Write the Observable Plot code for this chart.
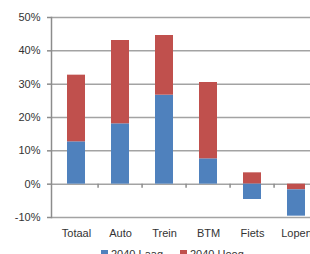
<!DOCTYPE html>
<html><head><meta charset="utf-8">
<script src="https://cdn.jsdelivr.net/npm/d3@7"></script>
<script src="https://cdn.jsdelivr.net/npm/@observablehq/plot@0.6"></script>
<style>
html,body{margin:0;padding:0;background:#fff;overflow:hidden;width:310px;height:254px}
#wrap{position:relative;width:310px;height:254px;overflow:hidden;font-family:"Liberation Sans",Arial,sans-serif;}
#wrap svg{position:absolute;left:0;top:0;max-width:none !important}
.leg{position:absolute;top:249px;font-size:11px;line-height:11px;color:#333;white-space:nowrap}
.sw{display:inline-block;width:7px;height:7px;margin-right:3px;vertical-align:top;margin-top:1px}
</style></head>
<body><div id="wrap"></div>
<script>
const categories = ["Totaal", "Auto", "Trein", "BTM", "Fiets", "Lopen"];
// segment sizes (percent) as stacked in the picture
const laag = [12.7, 18.1, 26.7, 7.6, -4.6, -7.9];
const hoog = [20.0, 25.0, 17.9, 22.9, 3.4, -1.7];
const seriesNames = ["2040 Laag", "2040 Hoog"];
const seriesColors = ["#4F81BD", "#C0504D"];
const yTicks = [-10, 0, 10, 20, 30, 40, 50];

const rows = [];
categories.forEach((c, i) => {
  let pos = 0, neg = 0;
  const segs = [[seriesNames[0], laag[i]], [seriesNames[1], hoog[i]]];
  for (const [s, v] of segs) if (v >= 0) { rows.push({cat: c, series: s, y1: pos, y2: pos + v}); pos += v; }
  for (const [s, v] of segs.slice().reverse()) if (v < 0) { rows.push({cat: c, series: s, y1: neg, y2: neg + v}); neg += v; }
});

const W = 320, H = 246, mL = 51, mR = 0, mT = 17, mB = 29;
const step = (W - mL - mR) / categories.length;
const yDomain = [-10, 50];
const tickLen = 4 * (yDomain[1] - yDomain[0]) / (H - mT - mB); // 4px in data units

const chart = Plot.plot({
  width: W, height: H,
  marginLeft: mL, marginRight: mR, marginTop: mT, marginBottom: mB,
  style: {fontFamily: '"Liberation Sans", Arial, sans-serif', fontSize: "11px", color: "#333", background: "#fff", maxWidth: "none"},
  x: {domain: categories, paddingInner: 0.6, paddingOuter: 0.3, axis: null, label: null},
  y: {domain: yDomain, axis: null, label: null},
  color: {domain: seriesNames, range: seriesColors},
  marks: [
    Plot.ruleY(yTicks, {stroke: "#a3a3a3", strokeWidth: 1.5}),
    Plot.barY(rows, {x: "cat", y1: "y1", y2: "y2", fill: "series"}),
    Plot.ruleX(categories.slice(1), {x: d => d, dx: -step / 2, y1: 0, y2: -tickLen, stroke: "#8c8c8c", strokeWidth: 1.5}),
    Plot.frame({anchor: "left", stroke: "#8c8c8c", strokeWidth: 1.5}),
    Plot.axisY(yTicks, {tickSize: 4, tickPadding: 7, tickFormat: d => d + "%", stroke: "#8c8c8c", strokeWidth: 1.5, fill: "#333", label: null}),
    Plot.axisX({tickSize: 0, tickPadding: 12, fill: "#333", label: null})
  ]
});
const wrap = document.getElementById("wrap");
wrap.appendChild(chart);

const legendX = [101, 180];
seriesNames.forEach((s, i) => {
  const d = document.createElement("div");
  d.className = "leg";
  d.style.left = legendX[i] + "px";
  d.innerHTML = `<span class="sw" style="background:${seriesColors[i]}"></span>${s}`;
  wrap.appendChild(d);
});
</script>
</body></html>
